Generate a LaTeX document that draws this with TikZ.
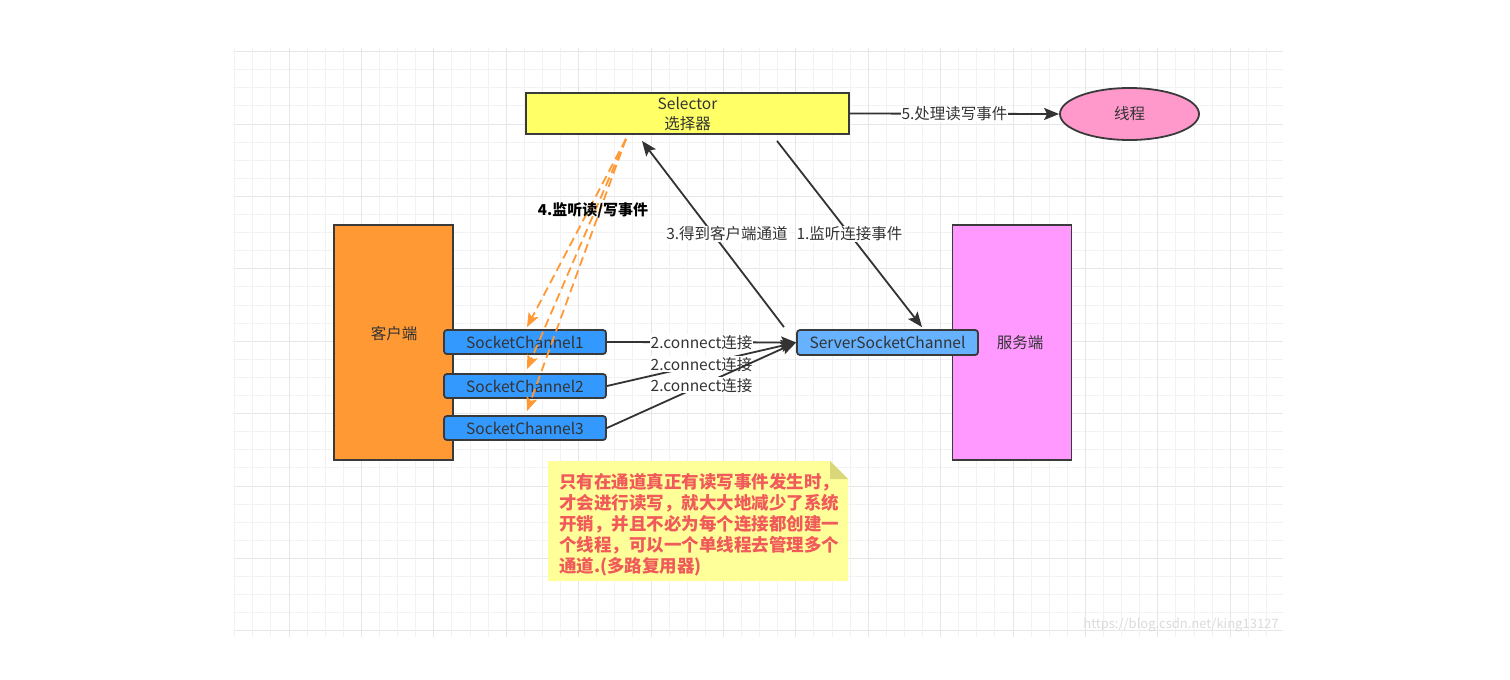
\documentclass[tikz,border=0pt]{standalone}
\usepackage{fontspec}
\setmainfont{Noto Sans CJK SC}
\usetikzlibrary{arrows.meta,shapes.geometric,backgrounds}
\definecolor{ink}{HTML}{333333}
\definecolor{edge}{HTML}{3A3A3A}
\definecolor{selfill}{HTML}{FFFF66}
\definecolor{thfill}{HTML}{FF99CC}
\definecolor{clfill}{HTML}{FF9933}
\definecolor{svfill}{HTML}{FF99FF}
\definecolor{scfill}{HTML}{3399FF}
\definecolor{sscfill}{HTML}{66B2FF}
\definecolor{notefill}{HTML}{FFFF99}
\definecolor{notefold}{HTML}{D8D87A}
\definecolor{notetext}{HTML}{F05A5A}
\definecolor{orangeline}{HTML}{FF9933}
\definecolor{minorgrid}{HTML}{F2F2F2}
\definecolor{majorgrid}{HTML}{E6E6E6}
\tikzset{
  txt/.style={font=\fontsize{15.5}{18}\selectfont, text=ink},
  box/.style={draw=edge, line width=1.8pt, inner sep=0pt, txt},
  selbox/.style={box, fill=selfill, minimum width=323pt, minimum height=41pt, align=center, font=\fontsize{15.5}{20}\selectfont},
  thnode/.style={box, ellipse, fill=thfill, minimum width=139pt, minimum height=52pt},
  bigbox/.style={box, minimum width=119pt, minimum height=235pt},
  chan/.style={box, rounded corners=3pt, fill=scfill, minimum width=162pt, minimum height=24pt},
  schan/.style={box, rounded corners=3pt, fill=sscfill, minimum width=181pt, minimum height=25pt},
  conn/.style={draw=ink, line width=1.8pt, -{Stealth[length=15pt,width=12pt,inset=3pt]}},
  dconn/.style={draw=orangeline, line width=1.8pt, dash pattern=on 9pt off 5pt, -{Stealth[length=14pt,width=11pt,inset=3pt]}},
  lbl/.style={txt, fill=white, inner sep=1pt},
  plain/.style={txt, inner sep=0pt},
}
\begin{document}
\begin{tikzpicture}[x=1pt,y=-1pt]
\useasboundingbox (0,0) rectangle (1510,680);
% background and grid
\begin{scope}[on background layer]
\fill[white] (0,0) rectangle (1510,680);
\begin{scope}
\clip (233,48) rectangle (1283,637);
\foreach \i in {-4,...,28}{
  \pgfmathtruncatemacro\m{mod(\i+100,4)}
  \ifnum\m=0
    \draw[majorgrid, line width=1pt] (233,{124+18.1*\i}) -- (1283,{124+18.1*\i});
  \else
    \draw[minorgrid, line width=1pt] (233,{124+18.1*\i}) -- (1283,{124+18.1*\i});
  \fi
}
\foreach \i in {-3,...,55}{
  \pgfmathtruncatemacro\m{mod(\i+100,4)}
  \ifnum\m=0
    \draw[majorgrid, line width=1pt] ({289+18.1*\i},48) -- ({289+18.1*\i},637);
  \else
    \draw[minorgrid, line width=1pt] ({289+18.1*\i},48) -- ({289+18.1*\i},637);
  \fi
}
\end{scope}
\end{scope}

% nodes
\node[selbox] (sel) at (687.5,113.5) {Selector\\选择器};
\node[thnode] (th) at (1129.5,114) {线程};
\node[bigbox, fill=clfill] (cl) at (393.5,342.5) {};
\node[plain] (cllabel) at (394,334) {客户端};
\node[bigbox, fill=svfill] (sv) at (1012,342.5) {};
\node[plain] (svlabel) at (1020,343) {服务端};
\node[chan] (sc1) at (525,342) {SocketChannel1};
\node[chan] (sc2) at (525,386) {SocketChannel2};
\node[chan] (sc3) at (525,428) {SocketChannel3};
\node[schan] (ssc) at (887.5,342.5) {ServerSocketChannel};

% note
\node[font=\fontsize{17.5}{21}\selectfont\bfseries, text=notetext, text width=290pt, align=left, inner sep=0pt, minimum width=300pt, minimum height=120pt] (note) at (704,525)
{只有在通道真正有读写事件发生时，\\才会进行读写，就大大地减少了系统\\开销，并且不必为每个连接都创建一\\个线程，可以一个单线程去管理多个\\通道.(多路复用器)};
\begin{scope}[on background layer]
\fill[notefill] (548,581) -- (548,461) -- (830,461) -- (848,479) -- (848,581) -- cycle;
\fill[notefold] (830,461) -- (848,479) -- (830,479) -- cycle;
\end{scope}

% connectors
\draw[conn] (sel.east) -- node[lbl]{5.处理读写事件} (th.west);
\draw[conn] ([xshift=89.5pt,yshift=-6pt]sel.south) -- node[lbl]{1.监听连接事件} ([xshift=34.5pt,yshift=2pt]ssc.north);
\draw[conn] ([xshift=-103.5pt,yshift=2pt]ssc.north) -- node[lbl, pos=0.5, xshift=14pt]{3.得到客户端通道} ([xshift=-45.5pt,yshift=-6pt]sel.south);
\draw[dconn] ([xshift=-61.5pt,yshift=-4pt]sel.south) -- ([xshift=2pt,yshift=2pt]sc1.north);
\draw[dconn] ([xshift=-61.5pt,yshift=-4pt]sel.south) -- ([xshift=2pt,yshift=4pt]sc2.north);
\draw[dconn] ([xshift=-61.5pt,yshift=-4pt]sel.south) -- ([xshift=2pt,yshift=4pt]sc3.north);
\node[font=\fontsize{15}{18}\selectfont\bfseries, text=black, inner sep=0pt] (l4) at (593,210) {4.监听读/写事件};
\draw[conn] (sc1.east) -- node[lbl]{2.connect连接} (ssc.west);
\draw[conn] (sc2.east) -- node[lbl]{2.connect连接} (ssc.west);
\draw[conn] (sc3.east) -- node[lbl]{2.connect连接} (ssc.west);

% watermark
\node[font=\fontsize{13}{15}\selectfont, text=black!14, inner sep=0pt] (wm) at (1181,625) {https://blog.csdn.net/king13127};
\end{tikzpicture}
\end{document}
